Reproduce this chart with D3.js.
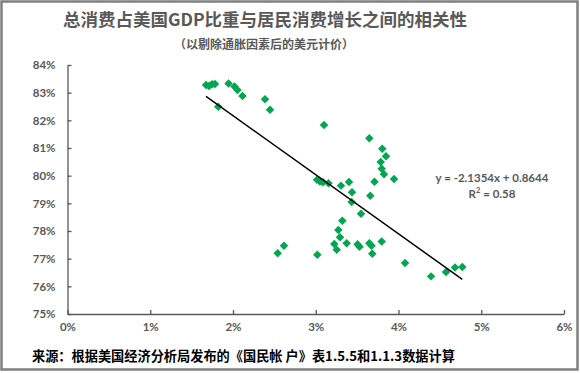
<!DOCTYPE html>
<html><head><meta charset="utf-8">
<script src="https://cdn.jsdelivr.net/npm/d3@7"></script>
<style>
html,body{margin:0;padding:0;background:#fff;}
svg{display:block;}
</style></head>
<body>
<svg id="c" width="580" height="373"></svg>
<script>
// Data: x = real consumer spending growth (%), y = consumption share of GDP (%)
const growth = [1.674,1.710,1.746,1.782,1.946,2.018,2.054,2.115,1.822,2.387,2.447,3.100,3.647,3.804,3.849,3.785,3.797,3.825,3.946,3.710,3.015,3.051,3.088,3.154,3.305,3.402,3.438,3.659,3.434,3.547,3.321,3.273,3.293,3.224,3.253,3.374,3.505,3.529,3.647,3.674,3.683,3.797,3.019,4.079,4.393,4.574,4.683,4.771,2.540,2.616];
const share  = [83.28,83.24,83.30,83.31,83.33,83.22,83.10,82.88,82.49,82.76,82.38,81.83,81.35,80.97,80.70,80.49,80.25,80.05,79.88,79.78,79.85,79.79,79.76,79.73,79.64,79.77,79.40,79.27,79.05,78.62,78.37,78.04,77.77,77.53,77.32,77.56,77.52,77.43,77.56,77.47,77.18,77.62,77.14,76.84,76.36,76.52,76.68,76.70,77.20,77.47];
const xTicks = [0,1,2,3,4,5,6];
const yTicks = [75,76,77,78,79,80,81,82,83,84];
const trendSlope = -2.1354;
const trendIntercept = 0.8644;
const titleText = "总消费占美国GDP比重与居民消费增长之间的相关性";
const subtitleText = "（以剔除通胀因素后的美元计价）";
const sourceText = "来源：根据美国经济分析局发布的《国民帐 户》表1.5.5和1.1.3数据计算";
const eqText = "y = -2.1354x + 0.8644";
const r2Value = "0.58";

const svg = d3.select("#c");
const cjk = "'Noto Sans CJK SC', sans-serif";
const numFont = "Lato, 'Noto Sans', sans-serif";
const gray = "#595959";

// outer border
svg.append("rect").attr("x",1.5).attr("y",1.5).attr("width",576).attr("height",368)
  .attr("fill","#fff").attr("stroke","#7f7f7f").attr("stroke-width",2.5);

const x = d3.scaleLinear().domain([0,6]).range([67.5,564]);
const y = d3.scaleLinear().domain([75,84]).range([314,65]);

// titles
svg.append("text").attr("x",265).attr("y",26).attr("text-anchor","middle")
  .attr("font-family",cjk).attr("font-weight","bold").attr("font-size",17.5)
  .attr("fill",gray).text(titleText);
svg.append("text").attr("x",264).attr("y",49).attr("text-anchor","middle")
  .attr("font-family",cjk).attr("font-weight","bold").attr("font-size",12)
  .attr("fill",gray).text(subtitleText);

// axes
const xAxis = d3.axisBottom(x).tickValues(xTicks).tickFormat(d=>d+"%").tickSizeInner(-4).tickSizeOuter(0).tickPadding(9);
const yAxis = d3.axisLeft(y).tickValues(yTicks).tickFormat(d=>d+"%").tickSizeInner(-4).tickSizeOuter(0).tickPadding(12);
const gx = svg.append("g").attr("transform",`translate(0,${y(75)})`).call(xAxis);
const gy = svg.append("g").attr("transform",`translate(${x(0)},0)`).call(yAxis);
[gx,gy].forEach(g=>{
  g.select(".domain").attr("stroke","#595959").attr("stroke-width",1.3);
  g.selectAll(".tick line").attr("stroke","#595959").attr("stroke-width",1.3);
  g.selectAll(".tick text").attr("fill",gray).attr("font-family",numFont)
   .attr("font-weight","bold").attr("font-size",11.5);
});
gx.selectAll(".tick text").attr("dy","0.71em");

// points
const pts = growth.map((g,i)=>({g, s: share[i]}));
svg.append("g").selectAll("path").data(pts).join("path")
  .attr("d", d3.symbol().type(d3.symbolSquare).size(36))
  .attr("transform", d=>`translate(${x(d.g)},${y(d.s)}) rotate(45)`)
  .attr("fill","#00a650");

// trendline
const xmin = d3.min(growth), xmax = d3.max(growth);
const trend = [xmin,xmax].map(g=>({g, s:(trendIntercept + trendSlope*g/100)*100}));
svg.append("path").datum(trend)
  .attr("d", d3.line().x(d=>x(d.g)).y(d=>y(d.s)))
  .attr("stroke","#000").attr("stroke-width",1.5).attr("fill","none");

// equation
svg.append("text").attr("x",492).attr("y",182).attr("text-anchor","middle")
  .attr("font-family",numFont).attr("font-weight","bold").attr("font-size",11.5)
  .attr("fill",gray).text(eqText);
const r2 = svg.append("text").attr("x",492).attr("y",198).attr("text-anchor","middle")
  .attr("font-family",numFont).attr("font-weight","bold").attr("font-size",11.5)
  .attr("fill",gray);
r2.append("tspan").text("R");
r2.append("tspan").attr("font-size",7.5).attr("dy",-5).text("2");
r2.append("tspan").attr("dy",5).text(" = " + r2Value);

// source
svg.append("text").attr("x",32).attr("y",361)
  .attr("font-family",cjk).attr("font-weight","bold").attr("font-size",13.2)
  .attr("fill","#000").text(sourceText);
</script>
</body></html>
